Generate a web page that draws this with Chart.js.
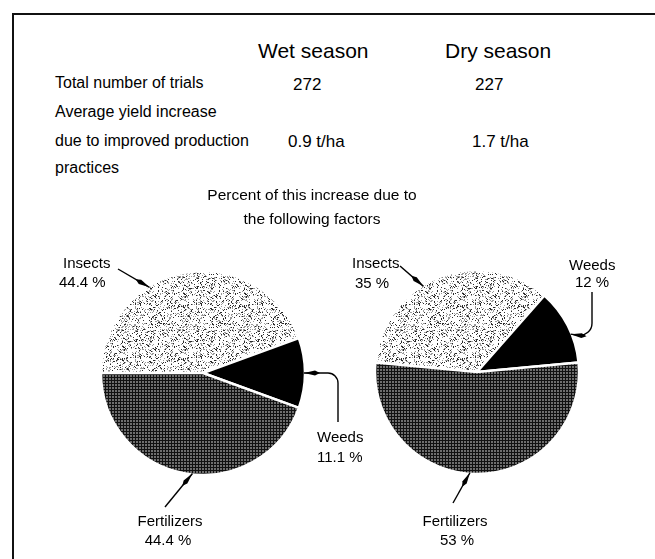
<!DOCTYPE html>
<html>
<head>
<meta charset="utf-8">
<script src="https://cdn.jsdelivr.net/npm/chart.js@4.4.1/dist/chart.umd.min.js"></script>
<style>
  html, body { margin: 0; padding: 0; background: #fff; }
  #page { position: relative; width: 655px; height: 559px; overflow: hidden; background: #fff;
          font-family: 'Liberation Sans', Arial, sans-serif; color: #000; }
  .t { position: absolute; white-space: nowrap; line-height: 1; }
  canvas { position: absolute; }
  #frameTop { position: absolute; left: 12px; top: 13px; width: 643px; height: 2px; background: #111; }
  #frameLeft { position: absolute; left: 12px; top: 13px; width: 2px; height: 546px; background: #111; }
</style>
</head>
<body>
<div id="page">
  <div id="frameTop"></div>
  <div id="frameLeft"></div>
  <canvas id="wetPie" width="400" height="359" style="left:0;top:200px"></canvas>
  <canvas id="dryPie" width="315" height="359" style="left:340px;top:200px"></canvas>
</div>
<script>
// ---- data ----
const seasons = ['Wet season', 'Dry season'];
const trialCounts = [272, 227];
const yieldGains = [0.9, 1.7];            // t/ha
const factors = ['Insects', 'Weeds', 'Fertilizers'];
const wetShares = [44.4, 11.1, 44.4];     // % of yield increase
const dryShares = [35, 12, 53];

// ---- header table (HTML text) ----
const page = document.getElementById('page');
function put(text, x, baseline, size, align) {
  const d = document.createElement('div');
  d.className = 't';
  d.textContent = text;
  d.style.fontSize = size + 'px';
  d.style.top = (baseline - 0.8465 * size) + 'px';
  d.style.left = x + 'px';
  if (align === 'center') d.style.transform = 'translateX(-50%)';
  page.appendChild(d);
}
const colX = [258, 445];
const trialX = [293, 475];
const yieldX = [288, 472];
seasons.forEach((s, i) => put(s, colX[i], 58, 21));
put('Total number of trials', 55, 89, 16);
trialCounts.forEach((v, i) => put(String(v), trialX[i], 90, 17));
put('Average yield increase', 55, 118, 16);
put('due to improved production', 55, 147, 16);
put('practices', 55, 174, 16);
yieldGains.forEach((v, i) => put(v.toFixed(1) + ' t/ha', yieldX[i], 147, 17));
put('Percent of this increase due to', 312, 200, 15.5, 'center');
put('the following factors', 312, 224, 15.5, 'center');

// ---- fill textures ----
function makeTile(w, h, paint) {
  const c = document.createElement('canvas');
  c.width = w; c.height = h;
  paint(c.getContext('2d'));
  return c;
}
function hash(x, y) {
  let h = Math.imul(x, 374761393) + Math.imul(y, 668265263);
  h = Math.imul(h ^ (h >>> 13), 1274126177);
  return ((h ^ (h >>> 16)) >>> 0) % 1000;
}
const probe = document.createElement('canvas').getContext('2d');
// light stipple for insects
const stipple = probe.createPattern(makeTile(61, 53, g => {
  g.fillStyle = '#fff'; g.fillRect(0, 0, 61, 53);
  for (let y = 0; y < 53; y++) for (let x = 0; x < 61; x++) {
    const v = hash(x, y);
    if (v < 110) { g.fillStyle = '#2a2a2a'; g.fillRect(x, y, 1, 1); }
    else if (v < 260) { g.fillStyle = '#9a9a9a'; g.fillRect(x, y, 1, 1); }
  }
}), 'repeat');
// dark cross-hatch for fertilizers
const hatch = probe.createPattern(makeTile(3, 3, g => {
  g.fillStyle = '#111'; g.fillRect(0, 0, 3, 3);
  g.fillStyle = '#6e6e6e'; g.fillRect(1, 1, 2, 2);
}), 'repeat');

// ---- callouts: labels with leader lines ending in a dart at the pie rim ----
const calloutPlugin = {
  id: 'callouts',
  afterDatasetsDraw(chart, args, opts) {
    const ctx = chart.ctx;
    const arc = chart.getDatasetMeta(0).data[0];
    const cx = arc.x, cy = arc.y, r = arc.outerRadius;
    const values = chart.data.datasets[0].data;
    const names = chart.data.labels;
    ctx.save();
    ctx.strokeStyle = '#000';
    ctx.fillStyle = '#000';
    ctx.lineWidth = 1.4;
    opts.items.forEach((it, i) => {
      const a = it.angle * Math.PI / 180;
      const tip = [cx + (r - 1) * Math.cos(a), cy + (r - 1) * Math.sin(a)];
      const pts = it.path.concat([tip]);
      ctx.beginPath();
      ctx.moveTo(pts[0][0], pts[0][1]);
      for (let k = 1; k < pts.length - 1; k++) {
        ctx.arcTo(pts[k][0], pts[k][1], pts[k + 1][0], pts[k + 1][1], it.bend || 8);
      }
      ctx.lineTo(tip[0], tip[1]);
      ctx.stroke();
      // dart
      const prev = pts[pts.length - 2];
      let dx = tip[0] - prev[0], dy = tip[1] - prev[1];
      const len = Math.hypot(dx, dy); dx /= len; dy /= len;
      const nx = -dy, ny = dx;
      const L = 11, w = 2.4;
      ctx.beginPath();
      ctx.moveTo(tip[0], tip[1]);
      ctx.lineTo(tip[0] - dx * L + nx * w, tip[1] - dy * L + ny * w);
      ctx.lineTo(tip[0] - dx * (L + 5), tip[1] - dy * (L + 5));
      ctx.lineTo(tip[0] - dx * L - nx * w, tip[1] - dy * L - ny * w);
      ctx.closePath();
      ctx.fill();
      // text
      ctx.font = '15px "Liberation Sans", Arial, sans-serif';
      ctx.textAlign = it.align || 'left';
      ctx.textBaseline = 'alphabetic';
      ctx.fillText(names[i], it.name[0], it.name[1]);
      ctx.fillText(values[i] + ' %', it.pct[0], it.pct[1]);
    });
    ctx.restore();
  }
};

function pieConfig(shares, rotation, padding, items) {
  return {
    type: 'pie',
    data: {
      labels: factors,
      datasets: [{
        data: shares,
        backgroundColor: [stipple, '#000', hatch],
        borderColor: '#fff',
        borderWidth: 2.5,
        radius: 102,
        rotation: rotation
      }]
    },
    options: {
      responsive: false,
      animation: false,
      events: [],
      layout: { padding: padding },
      plugins: {
        legend: { display: false },
        tooltip: { enabled: false },
        callouts: { items: items }
      }
    },
    plugins: [calloutPlugin]
  };
}

new Chart(document.getElementById('wetPie'), pieConfig(wetShares, -90,
  { left: 102, right: 96, top: 72, bottom: 85 },
  [
    { angle: -122, path: [[118, 69]], name: [63, 68], pct: [59, 87] },
    { angle: 0, path: [[338, 222], [338, 173]], bend: 10, name: [317, 242], pct: [317, 262] },
    { angle: 96, path: [[165, 307]], name: [170, 326], pct: [168, 345], align: 'center' }
  ]));

new Chart(document.getElementById('dryPie'), pieConfig(dryShares, -84.6,
  { left: 36, right: 77, top: 71, bottom: 86 },
  [
    { angle: -122, path: [[60, 66]], name: [12, 68], pct: [15, 88] },
    { angle: -22, path: [[252, 92], [252, 137]], bend: 12, name: [229, 70], pct: [235, 87] },
    { angle: 94, path: [[113, 303]], name: [115, 326], pct: [117, 345], align: 'center' }
  ]));
</script>
</body>
</html>
